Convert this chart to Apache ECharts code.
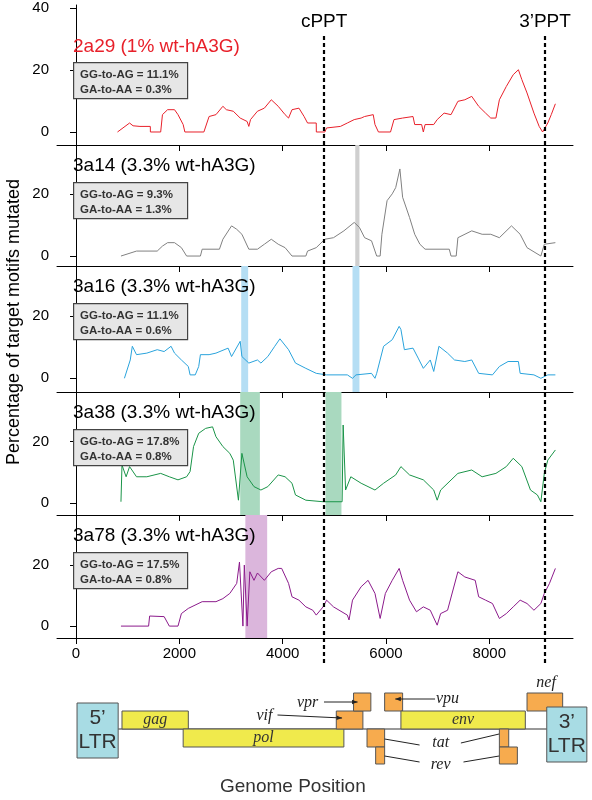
<!DOCTYPE html>
<html><head><meta charset="utf-8">
<script src="https://cdn.jsdelivr.net/npm/echarts@6/dist/echarts.min.js"></script>
<style>html,body{margin:0;padding:0;background:#fff}#c{width:592px;height:800px}</style>
</head><body><div id="c"></div>
<script>
const sampleNames = ['2a29 (1% wt-hA3G)','3a14 (3.3% wt-hA3G)','3a16 (3.3% wt-hA3G)','3a38 (3.3% wt-hA3G)','3a78 (3.3% wt-hA3G)'];
const ggToAg = ['11.1%','9.3%','11.1%','17.8%','17.5%'];
const gaToAa = ['0.3%','1.3%','0.6%','0.8%','0.8%'];
const lineColors = ['#e8202a','#808080','#29a3dc','#1a9448','#8b1a8b'];
const bandColors = ['#cfcfcf','#cfcfcf','#b5def4','#a9d9bf','#dbb6dc'];
const xTicks = [0,2000,4000,6000,8000];
const pptPositions = [{name:'cPPT',x:4803},{name:'3\u2019PPT',x:9078}];

const s2a29 = [[803,0],[1037,2.9],[1104,2],[1238,1.8],[1438,1.8],[1440,0],[1639,0],[1673,5.6],[1773,7.2],[1907,7.2],[1974,5.6],[2074,2.4],[2107,0],[2475,0],[2576,5],[2709,5.6],[2843,8.3],[2910,7.2],[3044,6.7],[3178,4.5],[3312,3.4],[3345,1.8],[3378,4],[3512,6.7],[3646,7.7],[3780,10.4],[3914,8.3],[4047,5.6],[4114,4.5],[4181,7.2],[4315,7.7],[4415,5],[4482,2.9],[4650,2.9],[4652,0],[4817,0],[4850,1.3],[5118,1.8],[5252,2.9],[5385,4],[5519,4.5],[5586,5],[5753,5.6],[5787,2.4],[5854,0],[6088,0],[6155,4],[6322,4.5],[6523,5],[6556,2.4],[6690,2.4],[6723,0],[6757,2.4],[6924,2.4],[6991,4],[7125,6.1],[7259,5.6],[7392,9.9],[7526,10.4],[7660,11.5],[7794,8.3],[7928,6.1],[8028,4.5],[8128,4.5],[8195,10.4],[8329,14.7],[8463,18.5],[8563,20.1],[8630,16.9],[8730,12.6],[8864,6.1],[8965,1.8],[9032,0],[9132,2.9],[9199,5.6],[9279,9.1]];
const s3a14 = [[870,0],[1171,1.6],[1572,1.6],[1673,3.2],[1773,4.3],[1907,4.3],[2040,2.7],[2141,0],[2408,0],[2442,2.2],[2776,2.2],[2843,5.4],[3011,9.7],[3111,8.6],[3211,7],[3345,2.2],[3512,2.2],[3646,3.8],[3780,5.4],[3914,3.8],[4047,2.7],[4181,0],[4449,0],[4482,1.6],[4650,2.7],[4817,5.4],[4984,5.9],[5185,8.1],[5385,10.8],[5486,9.2],[5586,5.9],[5720,4.9],[5820,0],[5887,0],[5921,7],[6021,17.8],[6121,20],[6188,22],[6269,28],[6322,18.9],[6456,12.4],[6556,7],[6656,3.8],[6757,2.2],[7225,2.2],[7259,0],[7359,0],[7392,5.9],[7660,8.1],[7861,7],[8028,7],[8195,5.9],[8429,9.7],[8597,7],[8730,2.7],[8998,0],[9065,3.8],[9279,4.3]];
const s3a16 = [[937,0],[1050,5.9],[1090,10.3],[1171,7.6],[1371,8.1],[1572,9.2],[1706,8.6],[1840,10.3],[1907,8.1],[2040,5.9],[2174,3.8],[2208,1.1],[2308,1.1],[2375,3.8],[2408,7.6],[2576,7.6],[2709,8.1],[2944,9.7],[3011,7],[3178,11.9],[3211,7],[3345,4.9],[3512,5.9],[3579,4.9],[3713,7],[3847,10.3],[3947,12.7],[4114,9.2],[4248,4.9],[4449,3.2],[4650,1.6],[4850,1.1],[5252,1.1],[5352,0],[5419,1.1],[5720,1.6],[5787,0],[5820,1.6],[5954,10.3],[6121,12.4],[6255,16.7],[6289,15.7],[6356,9.2],[6523,9.7],[6623,6.5],[6723,3.2],[6857,5.9],[6924,2.2],[7025,10.3],[7192,8.1],[7326,5.9],[7526,5.4],[7660,5.9],[7794,1.6],[8061,1.1],[8195,3.8],[8363,5.4],[8563,5.4],[8597,1.6],[8864,1.1],[8998,0],[9132,1.1],[9279,1.1]];
const s3a38 = [[870,0.5],[890,12.4],[970,8.6],[1037,11.9],[1171,8.6],[1371,8.6],[1639,9.7],[1806,8.6],[1974,7.6],[2141,8.6],[2208,10.3],[2275,18.4],[2375,22.7],[2509,24.3],[2643,24.8],[2709,21.6],[2843,18.4],[2977,16.2],[3044,14],[3144,1],[3164,0.5],[3211,16.2],[3312,8.6],[3445,5.4],[3579,4.3],[3713,5.4],[3914,9.2],[4047,8.6],[4181,6.5],[4248,2.7],[4449,1],[4783,0.5],[5151,0.5],[5171,25.4],[5218,4.3],[5319,8.6],[5519,6.5],[5787,4.3],[5954,6.5],[6188,9.2],[6289,11.9],[6456,9.2],[6723,7.6],[6924,4.3],[6991,1],[7058,4.3],[7392,9.7],[7660,10.8],[7861,8.6],[8128,9.7],[8329,11.9],[8463,14.6],[8630,11.9],[8797,4.3],[8931,2.7],[8998,0.5],[9065,9.7],[9132,14],[9279,17.3]];
const s3a78 = [[870,0],[1405,0],[1425,3.3],[1706,3.1],[1806,0],[1974,0],[2040,4.1],[2174,5.8],[2442,8],[2709,8],[2843,9],[2977,10.7],[3111,14],[3164,21],[3231,0],[3258,20],[3312,0],[3365,17.8],[3445,15],[3512,17.4],[3646,15],[3780,17.8],[3914,18.9],[3981,18.9],[4114,14],[4181,9.6],[4315,8.5],[4449,6.3],[4583,5.2],[4650,3.6],[4783,6.3],[4850,8.5],[4984,6.3],[5252,3.6],[5285,2],[5352,8.5],[5519,12.9],[5653,15],[5787,10.7],[5887,2.5],[5988,10.7],[6121,15],[6255,18.9],[6322,15],[6456,8.5],[6590,4.7],[6723,6.3],[6857,5.2],[6991,0.3],[7058,4.1],[7192,5.2],[7392,17.8],[7526,16.1],[7727,15],[7794,9.6],[7928,8.5],[8061,7.4],[8195,2.5],[8329,4.1],[8463,6.3],[8597,8.5],[8730,7.4],[8864,5.2],[8998,7.4],[9065,10.7],[9165,14],[9279,18.9]];
const seriesData = [s2a29,s3a14,s3a16,s3a38,s3a78];
const bands = [[],[[5405,5486]],[[3198,3332],[5352,5486]],[[3178,3559],[4830,5138]],[[3278,3700]]];
const yMins = [-4.2,-3.2,-4.4,-3.8,-3.9];
const yMaxs = [41,35.7,36.1,36.1,36.4];
const yTicks = [[0,20,40],[0,20],[0,20],[0,20],[0,20]];

const genes = [
 ['5\u2019\nLTR',20,816,13,68,'ltr'],['gag',890,2174,21,39,'big'],['pol',2074,5185,39,57,'big'],
 ['vif',5038,5553,21,39,'acc'],['vpr',5372,5707,3,21,'acc'],['vpu',5974,6322,3,21,'acc'],
 ['env',6289,8697,21,39,'big'],['nef',8730,9420,3,21,'acc'],['tat',5633,5974,39,57,'acc'],
 ['rev',5800,5974,57,74,'acc'],['tat',8195,8376,39,57,'acc'],['rev',8195,8543,57,74,'acc'],
 ['3\u2019\nLTR',9112,9888,17,72,'ltr']];
const geneLabels = [['vpr',4482,13],['vif',3646,26],['vpu',7192,9],['tat',7058,53],['rev',7058,75],['nef',9100,-7]];
const leaders = [[[4800,12],[5450,12],true],[[3900,25],[5150,28],true],[[6950,9],[6180,9],true],
 [[5974,49],[6650,55],false],[[7450,53],[8190,44],false],[[5974,66],[6650,72],false],[[7500,72],[8190,66],false]];
const backbone = [[816,39],[9112,39]];

const X0=-368, X1=9620, GL=57, GW=516;
const panelTops=[5,145,266,392,515], panelBottoms=[145,266,392,515,638];
const grids=[],xAxes=[],yAxes=[],series=[],graphics=[];
for(let i=0;i<5;i++){
  grids.push({left:GL,width:GW,top:panelTops[i],height:panelBottoms[i]-panelTops[i]});
  xAxes.push({type:'value',gridIndex:i,min:X0,max:X1,
    axisLine:{show:true,onZero:false,lineStyle:{color:'#000',width:1}},splitLine:{show:false},
    axisTick:{show:true,length:6,customValues:xTicks,lineStyle:{color:'#000'}},
    axisLabel:{show:i===4,customValues:xTicks,formatter:v=>String(v),color:'#000',fontSize:15,fontFamily:'Arial, Liberation Sans',margin:8}});
  yAxes.push({type:'value',gridIndex:i,min:yMins[i],max:yMaxs[i],
    axisLine:{show:true,lineStyle:{color:'#000'}},splitLine:{show:false},
    axisTick:{show:true,length:6,customValues:yTicks[i],lineStyle:{color:'#000'}},
    axisLabel:{customValues:yTicks[i],color:'#000',fontSize:15,fontFamily:'Arial, Liberation Sans',margin:8}});
  series.push({type:'line',xAxisIndex:i,yAxisIndex:i,data:seriesData[i],showSymbol:false,
    lineStyle:{color:lineColors[i],width:1},z:3,
    markArea:{silent:true,itemStyle:{color:bandColors[i],opacity:1},data:bands[i].map(b=>[{xAxis:b[0]},{xAxis:b[1]}])}});
  const tc = i===0?lineColors[0]:'#000';
  graphics.push({type:'text',z:100,left:73,top:panelTops[i]+(i===0?32:11),style:{text:sampleNames[i],fill:tc,font:'19px Arial, Liberation Sans'}});
  graphics.push({type:'rect',z:100,left:73,top:panelTops[i]+(i===0?57:37),shape:{width:114,height:36},style:{fill:'#e6e6e6',stroke:'#444',lineWidth:1.2}});
  graphics.push({type:'text',z:101,left:80,top:panelTops[i]+(i===0?62:42),style:{text:'GG-to-AG = '+ggToAg[i]+'\nGA-to-AA = '+gaToAa[i],fill:'#333',font:'bold 11.5px Arial, Liberation Sans',lineHeight:15}});
}
grids.push({left:GL,width:GW,top:35,height:628});
xAxes.push({type:'value',gridIndex:5,min:X0,max:X1,show:false});
yAxes.push({type:'value',gridIndex:5,min:0,max:1,show:false});
series.push({type:'line',xAxisIndex:5,yAxisIndex:5,data:[],z:10,
  markLine:{silent:true,symbol:'none',lineStyle:{type:[4,3],color:'#000',width:2.2},
  label:{show:true,position:'end',formatter:p=>p.name,color:'#000',fontSize:19,fontFamily:'Arial, Liberation Sans',distance:4},
  data:pptPositions.map(p=>({name:p.name,xAxis:p.x}))}});
grids.push({left:GL,width:GW,top:690,height:80});
xAxes.push({type:'value',gridIndex:6,min:X0,max:X1,show:false});
yAxes.push({type:'value',gridIndex:6,min:0,max:80,inverse:true,show:false});
series.push({type:'line',xAxisIndex:6,yAxisIndex:6,data:backbone,showSymbol:false,lineStyle:{color:'#333',width:1},z:1});
series.push({type:'custom',xAxisIndex:6,yAxisIndex:6,data:genes.map(g=>g.slice(1,5)),z:2,
  renderItem:(params,api)=>{
    const g=genes[params.dataIndex];
    const p1=api.coord([g[1],g[3]]),p2=api.coord([g[2],g[4]]);
    const fill=g[5]==='ltr'?'#a8dce4':(g[5]==='big'?'#f0ea4c':'#f7ab4e');
    const ch=[{type:'rect',shape:{x:p1[0],y:p1[1],width:p2[0]-p1[0],height:p2[1]-p1[1]},style:{fill,stroke:'#555',lineWidth:1}}];
    if(g[5]!=='acc'){
      ch.push({type:'text',style:{text:g[0],x:(p1[0]+p2[0])/2,y:(p1[1]+p2[1])/2,align:'center',verticalAlign:'middle',
        fill:'#333',font:g[5]==='ltr'?'21px Arial, Liberation Sans':'italic 16px "Liberation Serif", "DejaVu Serif", serif',lineHeight:24}});
    }
    return {type:'group',children:ch};
  }});
series.push({type:'custom',xAxisIndex:6,yAxisIndex:6,data:geneLabels.map(l=>[l[1],l[2]]),z:4,
  renderItem:(params,api)=>{const l=geneLabels[params.dataIndex];const p=api.coord([l[1],l[2]]);
    return {type:'text',style:{text:l[0],x:p[0],y:p[1],align:'center',verticalAlign:'middle',fill:'#222',font:'italic 16px "Liberation Serif", "DejaVu Serif", serif'}};}});
series.push({type:'custom',xAxisIndex:6,yAxisIndex:6,data:leaders.map(l=>l[0]),z:4,
  renderItem:(params,api)=>{const l=leaders[params.dataIndex];const a=api.coord(l[0]),b=api.coord(l[1]);
    const ch=[{type:'line',shape:{x1:a[0],y1:a[1],x2:b[0],y2:b[1]},style:{stroke:'#222',lineWidth:1}}];
    if(l[2]){const ang=Math.atan2(b[1]-a[1],b[0]-a[0]);const s=6;
      ch.push({type:'polygon',shape:{points:[[b[0],b[1]],[b[0]-s*Math.cos(ang-0.4),b[1]-s*Math.sin(ang-0.4)],[b[0]-s*Math.cos(ang+0.4),b[1]-s*Math.sin(ang+0.4)]]},style:{fill:'#222'}});}
    return {type:'group',children:ch};}});
graphics.push({type:'text',left:220,top:777,style:{text:'Genome Position',fill:'#333',font:'19px Arial, Liberation Sans'}});
graphics.push({type:'text',rotation:Math.PI/2,x:14,y:322,
  style:{text:'Percentage of target motifs mutated',fill:'#000',font:'18px Arial, Liberation Sans',align:'center',verticalAlign:'middle'}});
const chart=echarts.init(document.getElementById('c'));
chart.setOption({animation:false,grid:grids,xAxis:xAxes,yAxis:yAxes,series,graphic:graphics});
</script></body></html>
